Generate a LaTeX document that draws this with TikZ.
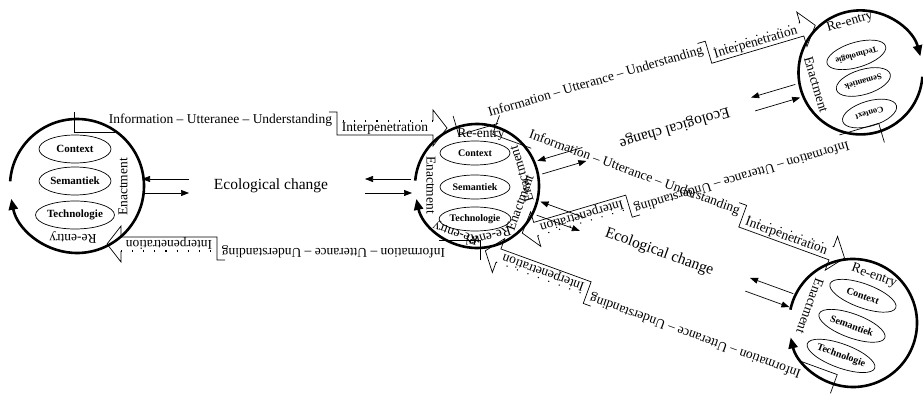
\documentclass[tikz,border=0pt]{standalone}
\usepackage{fontspec}
\setmainfont{Liberation Serif}
\usetikzlibrary{arrows.meta,shapes.geometric}

\tikzset{
  sysarc/.style={line width=2.6pt, -{Triangle[length=11pt,width=9pt]}},
  conn/.style={line width=0.7pt},
  dotedge/.style={line width=1.1pt, dash pattern=on 1.1pt off 10pt},
  ecoarrow/.style={line width=0.7pt, -{Triangle[length=8pt,width=6pt]}},
  lbl/.style={inner sep=0pt, transform shape, font=\fontsize{13.5}{15}\selectfont},
  ecolbl/.style={inner sep=0pt, transform shape, font=\fontsize{15.5}{17}\selectfont},
  part/.style={draw, ellipse, line width=0.7pt, inner sep=0pt, minimum width=70pt,
    minimum height=24pt, transform shape, font=\bfseries\fontsize{10}{12}\selectfont},
  partbig/.style={part, minimum width=72pt, minimum height=28pt, font=\bfseries\fontsize{11}{13}\selectfont},
  partsmall/.style={part, minimum width=56pt, minimum height=25pt, font=\bfseries\fontsize{8.5}{10}\selectfont},
}

% one side of a link: texts at the first system, connector and block arrow to the second
\newcommand{\halfunit}[2]{%
  \node[lbl, rotate=90] (#1en) at (46,-1) {Enactment};
  \node[lbl, rotate=180] (#1re) at (-4,-51) {Re-entry};
  \node[lbl] (#1iu) at (143.5,66) {#2};
  \coordinate (#1t0) at (-3,74);
  \coordinate (#1t1) at (-3,54);
  \coordinate (#1t2) at (38,54);
  \draw[conn] (#1t0) -- (#1t1) -- (#1t2);
  % block arrow
  \coordinate (#1a1) at (252,74);
  \coordinate (#1a2) at (260,74);
  \coordinate (#1a3) at (260,51);
  \coordinate (#1a4) at (356,51);
  \coordinate (#1a5) at (356,40);
  \coordinate (#1a6) at (370,58);
  \coordinate (#1a7) at (356,76);
  \coordinate (#1a8) at (356,65);
  \coordinate (#1a9) at (260,65);
  \draw[conn] (#1a1) -- (#1a2) -- (#1a3) -- (#1a4) -- (#1a5) -- (#1a6) -- (#1a7) -- (#1a8);
  \draw[dotedge] (#1a8) -- (#1a9);
  \node[lbl] (#1ip) at (308,58) {Interpenetration};
  % ecological arrows
  \coordinate (#1e1) at (112,7);
  \coordinate (#1e2) at (65,7);
  \coordinate (#1e3) at (66,-7);
  \coordinate (#1e4) at (112,-7);
  \draw[ecoarrow] (#1e1) -- (#1e2);
  \draw[ecoarrow] (#1e3) -- (#1e4);
}

% a whole link between two systems 400pt apart
\newcommand{\linkunit}[5]{%
  \begin{scope}[shift={#2}, rotate=#3]
    \halfunit{#1a}{#4}
    \node[ecolbl] (#1eco) at (194,0) {Ecological change};
    \begin{scope}[shift={(400,0)}, rotate=180]
      \halfunit{#1b}{#5}
    \end{scope}
  \end{scope}}

\begin{document}
\begin{tikzpicture}[x=1pt,y=1pt]
  \useasboundingbox (0,0) rectangle (923,402);

  % left system
  \begin{scope}[shift={(77,216)}]
    \draw[sysarc] (176:67) arc[start angle=176, end angle=-169, radius=67];
    \node[partbig] (Lctx) at (-2,37) {Context};
    \node[partbig] (Lsem) at (-2,5) {Semantiek};
    \node[partbig] (Ltec) at (-2,-29) {Technologie};
  \end{scope}

  % middle system
  \begin{scope}[shift={(477,216)}]
    \draw[sysarc] (175:62) arc[start angle=175, end angle=-168, radius=62];
    \node[part] (Mctx) at (-2,33) {Context};
    \node[part] (Msem) at (-2,-1) {Semantiek};
    \node[part] (Mtec) at (-2,-33) {Technologie};
  \end{scope}

  % top right system
  \begin{scope}[shift={(860.5,329.6)}]
    \draw[sysarc] (-4:62) arc[start angle=-4, end angle=-345, radius=62];
    \begin{scope}[rotate=196.5]
      \node[partsmall] (Tctx) at (3,42) {Context};
      \node[partsmall] (Tsem) at (0,10) {Semantiek};
      \node[partsmall] (Ttec) at (-1,-18) {Technologie};
    \end{scope}
  \end{scope}

  % bottom right system
  \begin{scope}[shift={(853,79)}]
    \draw[sysarc] (168:64) arc[start angle=168, end angle=-167, radius=64];
    \begin{scope}[rotate=-20]
      \node[part] (Bctx) at (0,29) {Context};
      \node[part] (Bsem) at (0,-3) {Semantiek};
      \node[part] (Btec) at (0,-35) {Technologie};
    \end{scope}
  \end{scope}

  % links
  \linkunit{ua}{(77,216)}{0}{Information -- Utteranee -- Understanding}{Information -- Utterance -- Understanding}
  \linkunit{ub}{(477,216)}{-20}{Information -- Utterance -- Understanding}{Information -- Utterance -- Understanding}
  \linkunit{uc}{(860.5,329.6)}{196.5}{Information -- Utterance -- Understanding}{Information -- Utterance -- Understanding}
\end{tikzpicture}
\end{document}
